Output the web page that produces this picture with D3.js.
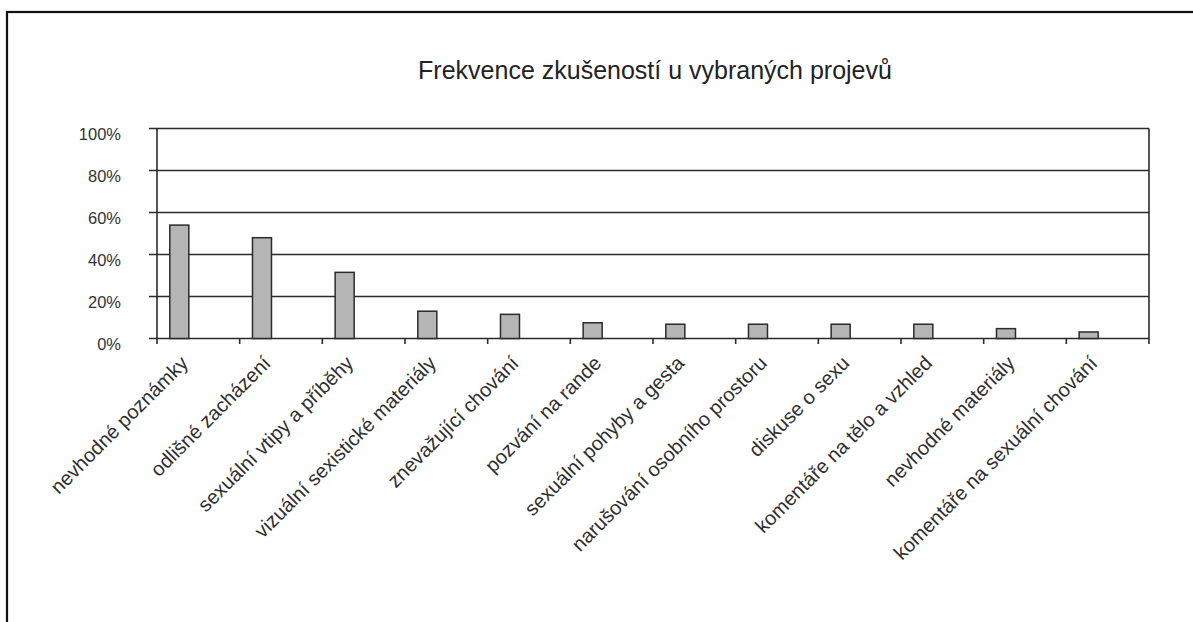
<!DOCTYPE html>
<html lang="cs">
<head>
    <meta charset="UTF-8">
    <title>Frekvence zkušeností u vybraných projevů</title>
    <script src="https://cdnjs.cloudflare.com/ajax/libs/d3/7.8.5/d3.min.js"></script>
    <style>
        body {
            margin: 0;
            padding: 0;
            background: #fff;
            font-family: "Liberation Sans", Arial, sans-serif;
        }
        .grid line, .axis line, .axis path {
            stroke: #2b2b2b;
            stroke-width: 1.6px;
            fill: none;
        }
        .bar {
            fill: #b5b5b5;
            stroke: #2b2b2b;
            stroke-width: 1.5px;
        }
        .ylab {
            font-size: 16.5px;
            fill: #333;
        }
        .xlab {
            font-size: 20px;
            fill: #2e2e2e;
        }
    </style>
</head>
<body>
    <div id="chart"></div>
    <script>
        const title = "Frekvence zkušeností u vybraných projevů";

        const categories = [
            "nevhodné poznámky",
            "odlišné zacházení",
            "sexuální vtipy a příběhy",
            "vizuální sexistické materiály",
            "znevažující chování",
            "pozvání na rande",
            "sexuální pohyby a gesta",
            "narušování osobního prostoru",
            "diskuse o sexu",
            "komentáře na tělo a vzhled",
            "nevhodné materiály",
            "komentáře na sexuální chování"
        ];

        // podíl respondentů (%)
        const values = [54, 48, 31.5, 13, 11.5, 7.5, 6.8, 6.8, 6.8, 6.8, 4.7, 3.1];

        const yTicks = [0, 20, 40, 60, 80, 100];

        const W = 1193, H = 622;
        const plotL = 157, plotR = 1149, plotT = 128.5, plotB = 338.5;

        const svg = d3.select("#chart").append("svg")
            .attr("width", W)
            .attr("height", H);

        // outer frame (cut off at right and bottom)
        svg.append("rect")
            .attr("x", 7).attr("y", 12)
            .attr("width", 1300).attr("height", 800)
            .attr("fill", "none")
            .attr("stroke", "#111")
            .attr("stroke-width", 2.2);

        const x = d3.scaleBand()
            .domain(categories)
            .range([plotL, plotR]);

        const y = d3.scaleLinear()
            .domain([0, 100])
            .range([plotB, plotT]);

        svg.append("text")
            .attr("x", (plotL + plotR) / 2 + 2)
            .attr("y", 79)
            .attr("text-anchor", "middle")
            .style("font-size", "25px")
            .style("fill", "#222")
            .text(title);

        // horizontal gridlines with tick stubs on the left
        svg.append("g")
            .attr("class", "grid")
            .selectAll("line")
            .data(yTicks)
            .enter().append("line")
            .attr("x1", plotL - 8)
            .attr("x2", plotR)
            .attr("y1", d => y(d))
            .attr("y2", d => y(d));

        svg.selectAll(".ylab")
            .data(yTicks)
            .enter().append("text")
            .attr("class", "ylab")
            .attr("x", 121)
            .attr("y", d => y(d) + 6)
            .attr("dy", "0.35em")
            .attr("text-anchor", "end")
            .text(d => d + "%");

        // bars sit left of band centre, like the first series of a group
        const bw = x.bandwidth();
        svg.selectAll(".bar")
            .data(values)
            .enter().append("rect")
            .attr("class", "bar")
            .attr("x", (d, i) => x(categories[i]) + bw * 0.155)
            .attr("width", bw * 0.23)
            .attr("y", d => y(d))
            .attr("height", d => y(0) - y(d));

        // axes: left, right border, category ticks
        const ax = svg.append("g").attr("class", "axis");
        ax.append("line")
            .attr("x1", plotL).attr("x2", plotL)
            .attr("y1", plotT).attr("y2", plotB + 5.5);
        ax.append("line")
            .attr("x1", plotR).attr("x2", plotR)
            .attr("y1", plotT).attr("y2", plotB + 5.5);
        ax.selectAll(".xt")
            .data(categories.slice(1))
            .enter().append("line")
            .attr("x1", d => x(d)).attr("x2", d => x(d))
            .attr("y1", plotB).attr("y2", plotB + 5.5);

        svg.selectAll(".xlab")
            .data(categories)
            .enter().append("text")
            .attr("class", "xlab")
            .attr("text-anchor", "end")
            .attr("transform", d => `translate(${x(d) + bw / 2 - 9},${plotB + 26}) rotate(-45)`)
            .text(d => d);
    </script>
</body>
</html>
